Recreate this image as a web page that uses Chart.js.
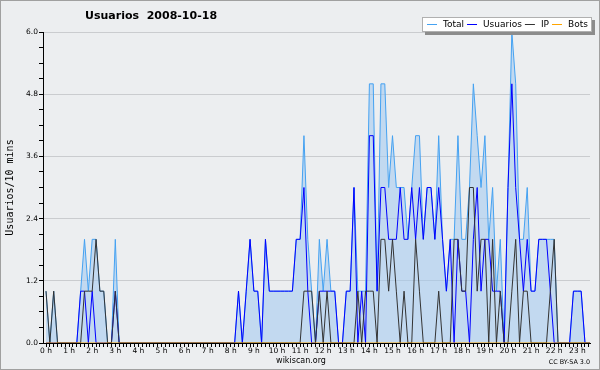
<!DOCTYPE html>
<html>
<head>
<meta charset="utf-8">
<script src="https://cdn.jsdelivr.net/npm/chart.js@4.4.0/dist/chart.umd.min.js"></script>
<style>
  html, body { margin: 0; padding: 0; background: #eceef0; }
</style>
</head>
<body>
<canvas id="myChart" width="600" height="370"></canvas>
<script>
// one value every 10 minutes, 00:00 .. 23:50
const total = [
  1,0,1,0,0,0,0,0,0,1,2,1,2,2,1,1,0,0,2,0,0,0,0,0,
  0,0,0,0,0,0,0,0,0,0,0,0,0,0,0,0,0,0,0,0,0,0,0,0,
  0,0,1,0,1,2,1,1,0,2,1,1,1,1,1,1,1,2,2,4,2,1,0,2,
  1,2,1,1,0,0,1,1,3,1,1,1,5,5,1,5,5,3,4,3,3,3,2,3,
  4,4,2,3,3,2,4,2,1,2,2,4,2,2,3,5,4,3,4,2,3,1,2,0,
  3,6,5,2,2,3,1,1,2,2,2,2,2,0,0,0,0,1,1,1,0,0,0,0
];
const usuarios = [
  0,0,0,0,0,0,0,0,0,1,1,0,1,0,0,0,0,0,1,0,0,0,0,0,
  0,0,0,0,0,0,0,0,0,0,0,0,0,0,0,0,0,0,0,0,0,0,0,0,
  0,0,1,0,1,2,1,1,0,2,1,1,1,1,1,1,1,2,2,3,1,0,0,1,
  1,1,1,1,0,0,1,1,3,0,1,0,4,4,1,3,3,2,2,2,3,2,2,3,
  2,3,2,3,3,2,3,2,1,2,0,2,1,1,0,2,3,1,2,2,1,1,1,0,
  3,5,3,2,1,2,1,1,2,2,2,1,0,0,0,0,0,1,1,1,0,0,0,0
];
const ip = [
  1,0,1,0,0,0,0,0,0,0,1,1,1,2,1,1,0,0,1,0,0,0,0,0,
  0,0,0,0,0,0,0,0,0,0,0,0,0,0,0,0,0,0,0,0,0,0,0,0,
  0,0,0,0,0,0,0,0,0,0,0,0,0,0,0,0,0,0,0,1,1,1,0,1,
  0,1,0,0,0,0,0,0,0,1,0,1,1,1,0,2,2,1,2,1,0,1,0,0,
  2,1,0,0,0,0,1,0,0,0,2,2,1,1,3,3,1,2,2,0,2,0,1,0,
  0,1,2,0,1,1,0,0,0,0,0,1,2,0,0,0,0,0,0,0,0,0,0,0
];
const bots = new Array(144).fill(0);
const seriesNames = ["Total", "Usuarios", "IP", "Bots"];
const seriesColors = ["#45a2f2", "#0000ff", "#333333", "#ffa500"];

const pts = arr => arr.map((v, i) => ({x: i / 6, y: v}));

const decor = {
  id: "decor",
  beforeDraw(chart) {
    const c = chart.ctx;
    c.save();
    c.fillStyle = "#eceef0";
    c.fillRect(0, 0, 600, 370);
    c.strokeStyle = "#a0a0a0";
    c.strokeRect(0.5, 0.5, 599, 369);
    c.restore();
  },
  afterDraw(chart) {
    const c = chart.ctx;
    c.save();
    c.fillStyle = "#000";
    c.textBaseline = "middle";
    c.font = "bold 11px 'DejaVu Sans'";
    c.fillText("Usuarios  2008-10-18", 85, 16);
    c.font = "8px 'DejaVu Sans'";
    c.textAlign = "center";
    c.fillText("wikiscan.org", 301, 361);
    c.font = "6.4px 'DejaVu Sans'";
    c.textAlign = "right";
    c.fillText("CC BY-SA 3.0", 590, 362);

    // legend box
    c.fillStyle = "#8c8c8c";
    c.fillRect(425, 20, 170, 15);
    c.fillStyle = "#ffffff";
    c.fillRect(422, 17, 170, 15);
    c.strokeStyle = "#b0b0b0";
    c.strokeRect(422.5, 17.5, 169, 14);
    c.font = "9px 'DejaVu Sans'";
    c.textAlign = "left";
    let x = 427;
    chart.data.datasets.forEach(ds => {
      c.strokeStyle = ds.borderColor;
      c.lineWidth = 1;
      c.beginPath();
      c.moveTo(x, 24.5);
      c.lineTo(x + 10, 24.5);
      c.stroke();
      c.fillStyle = "#000";
      c.fillText(ds.label, x + 16, 24.5);
      x += 16 + c.measureText(ds.label).width + 3;
    });
    c.restore();
  }
};

const chart = new Chart("myChart", {
  type: "line",
  data: {
    datasets: [
      {label: seriesNames[0], data: pts(total), borderColor: seriesColors[0], backgroundColor: "rgba(160,200,240,0.55)", fill: "origin", order: 4},
      {label: seriesNames[1], data: pts(usuarios), borderColor: seriesColors[1], order: 3},
      {label: seriesNames[2], data: pts(ip), borderColor: seriesColors[2], order: 2},
      {label: seriesNames[3], data: pts(bots), borderColor: seriesColors[3], order: 1}
    ]
  },
  options: {
    responsive: false,
    animation: false,
    layout: {padding: {top: 32, right: 10, left: 0, bottom: 0}},
    elements: {
      point: {radius: 0},
      line: {borderWidth: 1, tension: 0}
    },
    plugins: {
      legend: {display: false},
      title: {display: false},
      tooltip: {enabled: false}
    },
    scales: {
      x: {
        type: "linear",
        min: -0.13,
        max: 23.55,
        z: 1,
        afterFit: s => { s.height = 27; },
        afterBuildTicks: s => {
          const t = [];
          for (let k = 0; k / 6 <= s.max; k++) t.push({value: k / 6});
          s.ticks = t;
        },
        grid: {drawOnChartArea: false, tickLength: 4, tickColor: "#000"},
        border: {color: "#000"},
        ticks: {
          autoSkip: false,
          maxRotation: 0,
          padding: 0,
          color: "#000",
          font: {family: "'DejaVu Sans'", size: 7.5},
          callback: v => Math.abs(v - Math.round(v)) < 1e-6 ? Math.round(v) + " h" : ""
        }
      },
      y: {
        min: 0,
        max: 6,
        afterFit: s => { s.width = 43; },
        afterBuildTicks: s => {
          const t = [];
          for (let k = 0; k <= 20; k++) t.push({value: k * 0.3});
          s.ticks = t;
        },
        grid: {
          color: ctx => ctx.index % 4 === 0 && ctx.index > 0 ? "#cacccf" : "rgba(0,0,0,0)",
          tickColor: "#000",
          tickLength: 4
        },
        border: {color: "#000"},
        title: {
          display: true,
          text: "Usuarios/10 mins",
          color: "#000",
          font: {family: "'DejaVu Sans Mono'", size: 10}
        },
        ticks: {
          autoSkip: false,
          padding: 1,
          color: "#000",
          font: {family: "'DejaVu Sans'", size: 7.5},
          callback: (v, i) => i % 4 === 0 ? (i * 0.3).toFixed(1) : ""
        }
      }
    }
  },
  plugins: [decor]
});
</script>
</body>
</html>
